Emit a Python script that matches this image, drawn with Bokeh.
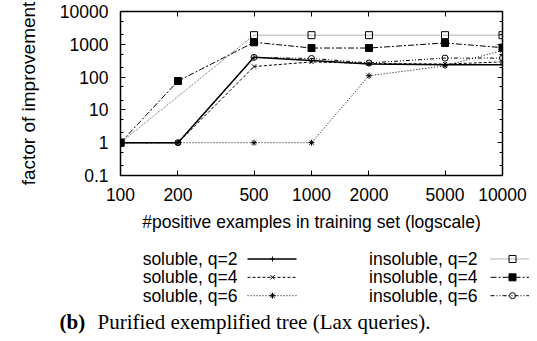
from bokeh.plotting import figure
from bokeh.models import FixedTicker, LogAxis, Range1d
from bokeh.layouts import column
from bokeh.embed import file_html
from bokeh.resources import INLINE
from bokeh.core.properties import value

# ---------------- data ----------------
x_pos = [100, 200, 500, 1000, 2000, 5000, 10000]
soluble_q2 = [1, 1, 400, 320, 250, 240, 240]
soluble_q4 = [1, 1, 210, 290, 260, 250, 290]
soluble_q6 = [1, 1, 1, 1, 110, 220, 650]
insoluble_q2_x = [100, 500, 1000, 2000, 5000, 10000]
insoluble_q2 = [1, 1900, 1900, 1900, 1900, 1900]
insoluble_q4 = [1, 76, 1150, 770, 770, 1100, 790]
insoluble_q6 = [1, 1, 400, 370, 270, 380, 380]

x_ticks = [100, 200, 500, 1000, 2000, 5000, 10000]
x_tick_labels = ["100", "200", "500", "1000", "2000", "5000", "10000"]
y_ticks = [0.1, 1, 10, 100, 1000, 10000]
y_tick_labels = ["0.1", "1", "10", "100", "1000", "10000"]
y_minor_ticks = [0.2, 0.5, 2, 5, 20, 50, 200, 500, 2000, 5000]

series_labels = ["soluble, q=2", "soluble, q=4", "soluble, q=6",
                 "insoluble, q=2", "insoluble, q=4", "insoluble, q=6"]
x_label = "#positive examples in training set (logscale)"
y_label = "factor of improvement"
caption_bold = "(b)"
caption_rest = "Purified exemplified tree (Lax queries)."

# ---------------- styles ----------------
styles = [
    dict(dash="solid", width=1.5, color="black", marker="cross", size=5, fill="black"),
    dict(dash="3 2", width=1, color="black", marker="x", size=6, fill="black"),
    dict(dash="1 2", width=1, color="black", marker="asterisk", size=6, fill="black"),
    dict(dash="1 1", width=1, color="#666666", marker="square", size=7, fill=None),
    dict(dash="6 2 2 2", width=1, color="black", marker="square", size=7, fill="black"),
    dict(dash="4 2 1 2 1 2", width=1, color="black", marker="circle", size=6, fill=None),
]
series_x = [x_pos, x_pos, x_pos, insoluble_q2_x, x_pos, x_pos]
series_y = [soluble_q2, soluble_q4, soluble_q6, insoluble_q2, insoluble_q4, insoluble_q6]

SANS = "Liberation Sans"
SERIF = "Liberation Serif"
FS = "17.5px"
W = 529

p = figure(width=W, height=240, x_axis_type="log", y_axis_type="log",
           x_range=Range1d(100, 10000), y_range=Range1d(0.1, 10000),
           output_backend="svg", toolbar_location=None,
           min_border_left=120, min_border_right=27, min_border_top=11, min_border_bottom=65)
p.frame_align = False
p.grid.visible = False
p.outline_line_color = "black"
p.outline_line_width = 1.5
p.background_fill_color = "white"
p.border_fill_color = "white"

xt = FixedTicker(ticks=x_ticks, minor_ticks=[])
yt = FixedTicker(ticks=y_ticks, minor_ticks=y_minor_ticks)


def style(ax, labels):
    ax.axis_line_color = None
    ax.major_tick_in = 5
    ax.major_tick_out = 0
    ax.minor_tick_in = 3
    ax.minor_tick_out = 0
    ax.major_tick_line_color = "black"
    ax.minor_tick_line_color = "black"
    if labels:
        ax.major_label_text_font = SANS
        ax.major_label_text_font_size = FS
        ax.major_label_text_color = "black"
        ax.axis_label_text_font = SANS
        ax.axis_label_text_font_style = "normal"
        ax.axis_label_text_color = "black"
    else:
        ax.major_label_text_font_size = "1px"
        ax.major_label_text_alpha = 0
        ax.major_label_standoff = 0


xa = p.xaxis[0]
xa.ticker = xt
xa.major_label_overrides = {v: s for v, s in zip(x_ticks, x_tick_labels)}
xa.axis_label = x_label
style(xa, True)
xa.axis_label_text_font_size = FS
xa.major_label_standoff = 12
xa.axis_label_standoff = 8

ya = p.yaxis[0]
ya.ticker = yt
ya.major_label_overrides = {v: s for v, s in zip(y_ticks, y_tick_labels)}
ya.axis_label = y_label
style(ya, True)
ya.axis_label_text_font_size = "19px"
ya.major_label_standoff = 12
ya.axis_label_standoff = 18

top = LogAxis(ticker=xt)
style(top, False)
p.add_layout(top, "above")
right = LogAxis(ticker=yt)
style(right, False)
p.add_layout(right, "right")

for xs, ys, st in zip(series_x, series_y, styles):
    p.line(xs, ys, line_dash=st["dash"], line_width=st["width"], line_color=st["color"])
    p.scatter(xs, ys, marker=st["marker"], size=st["size"], line_color="black",
              fill_color=st["fill"], line_width=1)

# ---------------- legend + caption ----------------
LH = 101
leg = figure(width=W, height=LH, x_range=Range1d(0, W), y_range=Range1d(LH, 0),
             x_axis_location=None, y_axis_location=None, output_backend="svg",
             toolbar_location=None, min_border=0, outline_line_color=None)
leg.frame_align = False
leg.grid.visible = False

row_y = [18.5, 36.8, 55.2]
col_text_x = [237, 477]
col_line_x = [(247, 296), (490, 529)]
col_marker_x = [272, 512]
for i, (lab, st) in enumerate(zip(series_labels, styles)):
    c = i // 3
    r = row_y[i % 3]
    leg.text(x=[col_text_x[c]], y=[r], text=[lab], text_align="right", text_baseline="middle",
             text_font=value(SANS), text_font_size=FS, text_color="black")
    leg.line(x=list(col_line_x[c]), y=[r, r], line_dash=st["dash"], line_width=st["width"],
             line_color=st["color"])
    leg.scatter(x=[col_marker_x[c]], y=[r], marker=st["marker"], size=st["size"],
                line_color="black", fill_color=st["fill"])

leg.text(x=[59], y=[81], text=[caption_bold], text_align="left", text_baseline="middle",
         text_font=value(SERIF), text_font_size="21px", text_font_style="bold", text_color="black")
leg.text(x=[97], y=[81], text=[caption_rest], text_align="left", text_baseline="middle",
         text_font=value(SERIF), text_font_size="21px", text_color="black")

layout = column(p, leg, spacing=0)
open("out.html", "w").write(file_html(layout, INLINE))
